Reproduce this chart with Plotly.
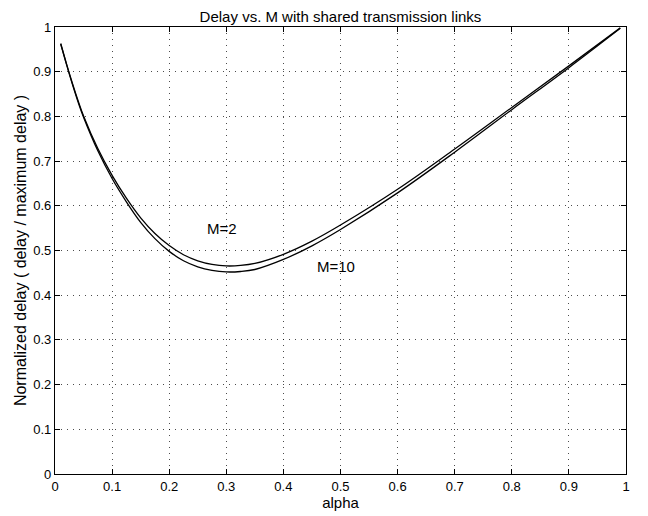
import plotly.graph_objects as go

alpha = [0.01, 0.02, 0.03, 0.041, 0.05, 0.075, 0.1, 0.125, 0.15, 0.175, 0.2, 0.225, 0.25,
         0.275, 0.3, 0.325, 0.35, 0.4, 0.45, 0.5, 0.6, 0.7, 0.8, 0.9, 0.99]
delay_m2 = [0.963, 0.918, 0.876, 0.833, 0.801, 0.728, 0.668, 0.617, 0.573, 0.538, 0.511, 0.4905, 0.477,
            0.469, 0.4655, 0.4665, 0.471, 0.4915, 0.521, 0.557, 0.637, 0.727, 0.82, 0.913, 0.998]
delay_m10 = [0.962, 0.917, 0.874, 0.83, 0.798, 0.723, 0.661, 0.609, 0.563, 0.5265, 0.498, 0.477, 0.4635,
             0.4555, 0.452, 0.453, 0.4575, 0.48, 0.5105, 0.547, 0.629, 0.72, 0.815, 0.909, 0.997]

labels = ["M=2", "M=10"]
label_x = [0.292, 0.492]
label_y = [0.55, 0.465]

x_ticks = [0, 0.1, 0.2, 0.3, 0.4, 0.5, 0.6, 0.7, 0.8, 0.9, 1]
x_tick_text = ["0", "0.1", "0.2", "0.3", "0.4", "0.5", "0.6", "0.7", "0.8", "0.9", "1"]
y_ticks = [0, 0.1, 0.2, 0.3, 0.4, 0.5, 0.6, 0.7, 0.8, 0.9, 1]
y_tick_text = ["0", "0.1", "0.2", "0.3", "0.4", "0.5", "0.6", "0.7", "0.8", "0.9", "1"]

FONT = "Liberation Sans, Arial, Helvetica, sans-serif"

fig = go.Figure()
for vals in (delay_m2, delay_m10):
    fig.add_trace(go.Scatter(x=alpha, y=vals, mode="lines",
                             line=dict(color="black", width=1.3, shape="spline", smoothing=1.0),
                             showlegend=False, hoverinfo="skip"))

for t, xx, yy in zip(labels, label_x, label_y):
    fig.add_annotation(x=xx, y=yy, text=t, showarrow=False, xref="x", yref="y",
                       font=dict(family=FONT, size=15, color="black"))

axis_common = dict(showline=True, linecolor="black", linewidth=1.2, mirror="ticks",
                   ticks="inside", ticklen=5, tickcolor="black",
                   showgrid=True, gridcolor="rgba(0,0,0,0.7)", griddash="1px,5px", gridwidth=1,
                   zeroline=False, tickfont=dict(family=FONT, size=13, color="black"))

# the page body adds an 8px margin, so the figure is 8px smaller than the window
fig.update_layout(
    width=640, height=508,
    margin=dict(l=47, r=22, t=17, b=42),
    paper_bgcolor="white", plot_bgcolor="white",
    title=dict(text="Delay vs. M with shared transmission links", x=0.5, xref="paper",
               y=1 - 3 / 508, yref="container", yanchor="top", pad=dict(t=0, b=0),
               font=dict(family=FONT, size=15, color="black")),
    xaxis=dict(range=[0, 1], tickvals=x_ticks, ticktext=x_tick_text,
               title=dict(text="alpha", font=dict(family=FONT, size=15, color="black"), standoff=0),
               **axis_common),
    yaxis=dict(range=[0, 1], tickvals=y_ticks, ticktext=y_tick_text,
               title=dict(text="Normalized delay ( delay / maximum delay )",
                          font=dict(family=FONT, size=16, color="black"), standoff=2),
               **axis_common),
)

fig.write_html("out.html")
